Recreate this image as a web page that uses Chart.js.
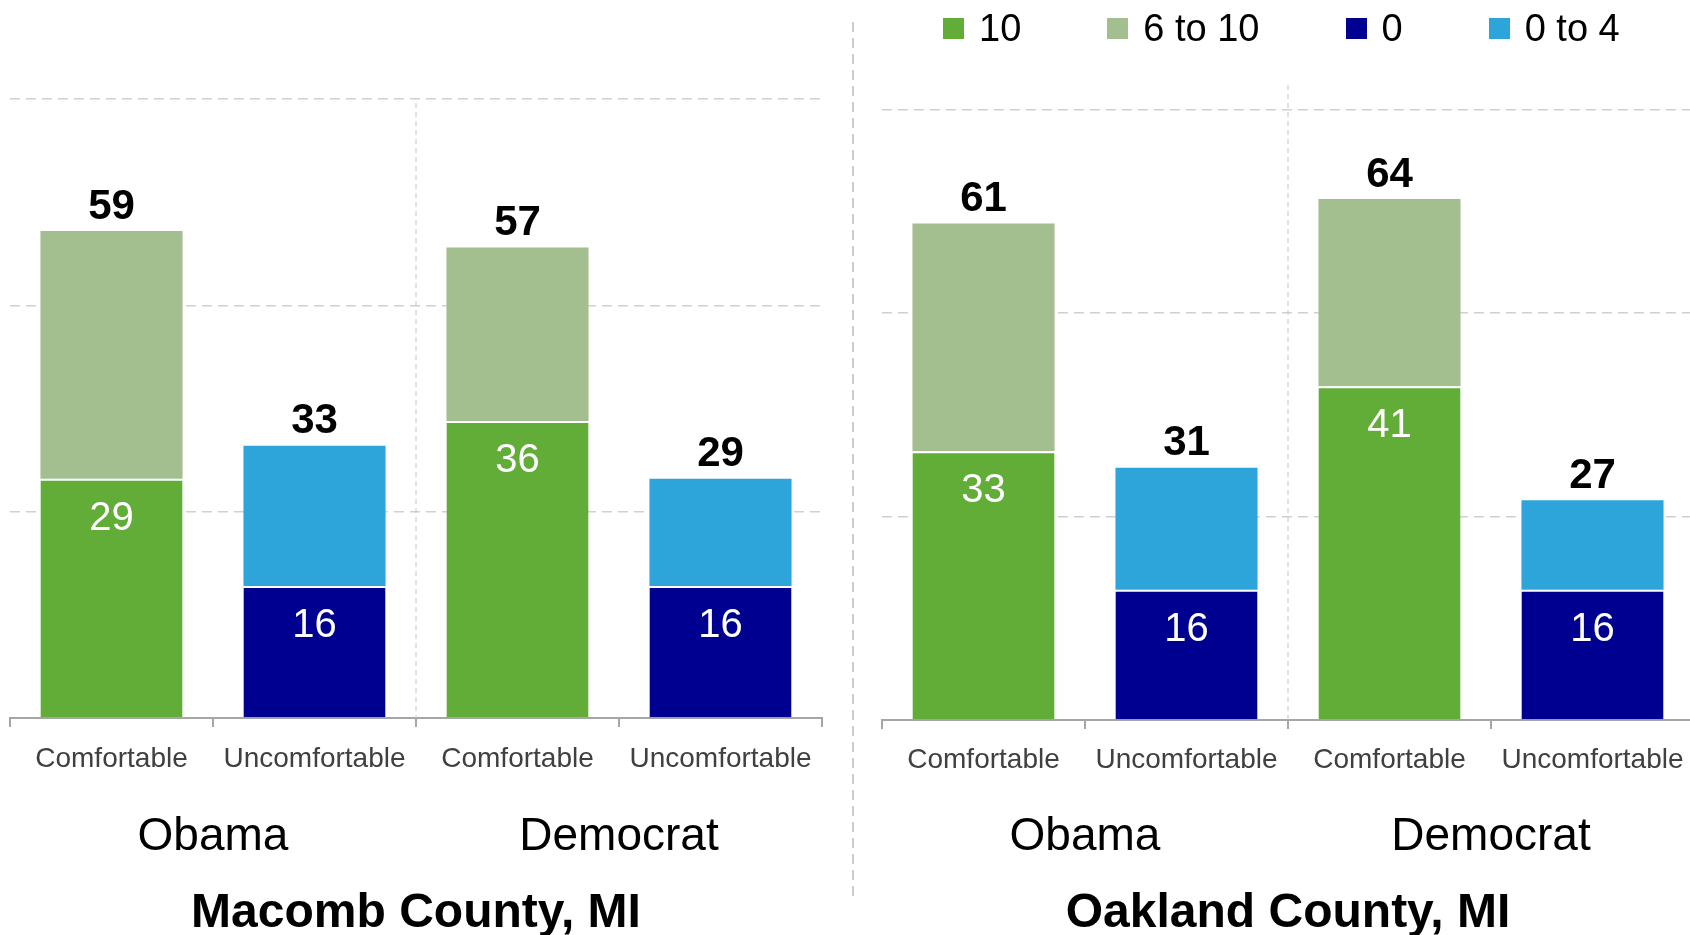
<!DOCTYPE html>
<html>
<head>
<meta charset="utf-8">
<script src="https://cdn.jsdelivr.net/npm/chart.js@4.4.1/dist/chart.umd.min.js"></script>
<style>
  html, body { margin: 0; padding: 0; width: 1690px; height: 935px; overflow: hidden; background: #fff; }
  #leftChart { position: absolute; left: 0; top: 0; }
  #rightChart { position: absolute; left: 845px; top: 0; }
  #legend { position: absolute; left: 943px; top: 0; height: 56px; display: flex; align-items: center;
            font-family: 'Liberation Sans', Arial, sans-serif; font-size: 38px; color: #000; white-space: nowrap; }
  #legend .item { display: flex; align-items: center; margin-right: 86px; }
  #legend .box { width: 21px; height: 21px; margin-right: 15px; }
</style>
</head>
<body>
<canvas id="leftChart" width="853" height="935"></canvas>
<canvas id="rightChart" width="855" height="935"></canvas>
<div id="legend"></div>
<script>
// values
const categories = ['Comfortable', 'Uncomfortable', 'Comfortable', 'Uncomfortable'];
const groups = ['Obama', 'Democrat'];
const seriesNames = ['10', '6 to 10', '0', '0 to 4'];
const seriesColors = ['#62ad37', '#a3be8f', '#000090', '#2da5db'];

// Macomb County, MI
const macombTen = [29, null, 36, null];
const macombSixToTen = [30, null, 21, null];
const macombZero = [null, 16, null, 16];
const macombZeroToFour = [null, 17, null, 13];

// Oakland County, MI
const oaklandTen = [33, null, 41, null];
const oaklandSixToTen = [28, null, 23, null];
const oaklandZero = [null, 16, null, 16];
const oaklandZeroToFour = [null, 15, null, 11];

const FONT = "'Liberation Sans', Arial, sans-serif";
Chart.defaults.font.family = FONT;

// numbers on the bars: white inside lower part, bold total on top
const valueLabels = {
  id: 'valueLabels',
  afterDatasetsDraw(chart) {
    const ctx = chart.ctx;
    ctx.save();
    ctx.textAlign = 'center';
    ctx.textBaseline = 'middle';
    chart.data.datasets.forEach((ds, i) => {
      const meta = chart.getDatasetMeta(i);
      meta.data.forEach((bar, j) => {
        const v = ds.data[j];
        if (v === null) return;
        if (ds.below === undefined) {
          ctx.font = '40px ' + FONT;
          ctx.fillStyle = '#fff';
          ctx.fillText(v, bar.x, bar.y + 40);
        } else {
          const lower = chart.data.datasets[ds.below].data[j];
          ctx.font = 'bold 42px ' + FONT;
          ctx.fillStyle = '#000';
          ctx.fillText(lower + v, bar.x, bar.y - 24);
        }
      });
    });
    ctx.restore();
  }
};

// dashed line between Obama and Democrat, and between the two panels
const dividers = {
  id: 'dividers',
  beforeDatasetsDraw(chart, args, opts) {
    const { ctx, chartArea, scales: { x, y } } = chart;
    const px = (x.getPixelForValue(1) + x.getPixelForValue(2)) / 2;
    ctx.save();
    ctx.strokeStyle = '#c4c4c4';
    ctx.lineWidth = 1;
    ctx.setLineDash([5, 4]);
    ctx.beginPath();
    ctx.moveTo(px, y.getPixelForValue(opts.from));
    ctx.lineTo(px, chartArea.bottom);
    ctx.stroke();
    ctx.restore();
  },
  afterDraw(chart, args, opts) {
    if (opts.panelLine == null) return;
    const ctx = chart.ctx;
    ctx.save();
    ctx.strokeStyle = '#bdbdbd';
    ctx.lineWidth = 1.5;
    ctx.setLineDash([10, 6]);
    ctx.beginPath();
    ctx.moveTo(opts.panelLine, 22);
    ctx.lineTo(opts.panelLine, 897);
    ctx.stroke();
    ctx.restore();
  }
};

function makeChart(id, title, ten, sixToTen, zero, zeroToFour, cfg) {
  const lowerBorder = { top: 2, right: 0, bottom: 0, left: 0 };
  return new Chart(document.getElementById(id), {
    type: 'bar',
    data: {
      labels: categories,
      datasets: [
        { label: seriesNames[0], data: ten, backgroundColor: seriesColors[0], borderColor: '#fff', borderWidth: lowerBorder },
        { label: seriesNames[1], data: sixToTen, backgroundColor: seriesColors[1], below: 0 },
        { label: seriesNames[2], data: zero, backgroundColor: seriesColors[2], borderColor: '#fff', borderWidth: lowerBorder },
        { label: seriesNames[3], data: zeroToFour, backgroundColor: seriesColors[3], below: 2 }
      ]
    },
    options: {
      responsive: false,
      animation: false,
      devicePixelRatio: 1,
      categoryPercentage: 1,
      barPercentage: 0.7,
      layout: { padding: cfg.padding },
      scales: {
        x: {
          stacked: true,
          weight: 0,
          grid: { display: true, drawOnChartArea: false, drawTicks: true, tickLength: 9, color: '#a6a6a6', lineWidth: 2, offset: true },
          border: { display: true, color: '#a6a6a6', width: 2 },
          ticks: { font: { size: 28 }, color: '#404040', padding: cfg.tickPad, maxRotation: 0, autoSkip: false }
        },
        group: {
          type: 'category',
          labels: groups,
          position: 'bottom',
          offset: true,
          weight: 1,
          grid: { display: false, drawTicks: false },
          border: { display: false },
          ticks: { font: { size: 46 }, color: '#000', padding: 19, maxRotation: 0 }
        },
        y: {
          stacked: true,
          min: 0,
          max: cfg.max,
          afterBuildTicks: s => { s.ticks = s.ticks.filter(t => t.value % 25 === 0); },
          ticks: { display: false, stepSize: 25 },
          grid: { color: '#d0d0d0', lineWidth: 1.5, drawTicks: false },
          border: { display: false, dash: [10, 6] }
        }
      },
      plugins: {
        legend: { display: false },
        tooltip: { enabled: false },
        title: {
          display: true,
          position: 'bottom',
          text: title,
          color: '#000',
          font: { size: 48, weight: 'bold', lineHeight: 0.9 },
          padding: { top: 8, bottom: 0 }
        },
        dividers: { from: cfg.dividerFrom, panelLine: cfg.panelLine }
      }
    },
    plugins: [valueLabels, dividers]
  });
}

makeChart('leftChart', 'Macomb County, MI', macombTen, macombSixToTen, macombZero, macombZeroToFour,
  { padding: { top: 99, left: 10, right: 31, bottom: 0 }, tickPad: 15, max: 75, dividerFrom: 74.5, panelLine: null });

const rightChart = makeChart('rightChart', 'Oakland County, MI', oaklandTen, oaklandSixToTen, oaklandZero, oaklandZeroToFour,
  { padding: { top: 85, left: 37, right: 6, bottom: 0 }, tickPad: 14, max: 78, dividerFrom: 78, panelLine: 8 });

// legend built from the chart's own legend items
const legendEl = document.getElementById('legend');
rightChart.options.plugins.legend.labels.generateLabels(rightChart).forEach(item => {
  const el = document.createElement('div');
  el.className = 'item';
  const box = document.createElement('span');
  box.className = 'box';
  box.style.background = item.fillStyle;
  const txt = document.createElement('span');
  txt.textContent = item.text;
  el.appendChild(box);
  el.appendChild(txt);
  legendEl.appendChild(el);
});
</script>
</body>
</html>
